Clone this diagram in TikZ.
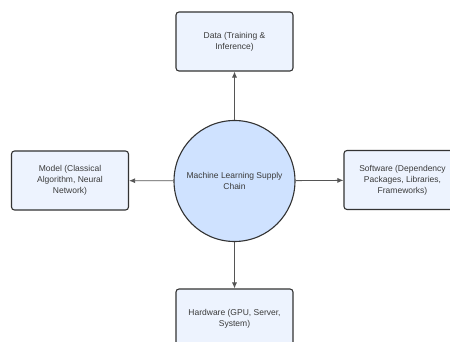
\documentclass[tikz,border=0pt]{standalone}
\usepackage{fontspec}
\setmainfont{Liberation Sans}
\usetikzlibrary{arrows.meta}

\definecolor{boxfill}{HTML}{EDF3FE}
\definecolor{hubfill}{HTML}{CFE2FF}
\definecolor{edge}{HTML}{333333}
\definecolor{wire}{HTML}{555555}
\definecolor{ink}{HTML}{3A3A3A}

\tikzset{
  part/.style={draw=edge, fill=boxfill, line width=1.1pt, rounded corners=3pt,
    minimum width=117pt, minimum height=59pt, align=center, text=ink,
    font=\fontsize{8.5}{11}\selectfont},
  hub/.style={circle, draw=edge, fill=hubfill, line width=1.1pt,
    minimum size=121pt, align=center, text=ink, font=\fontsize{8.5}{11}\selectfont},
  flow/.style={draw=wire, line width=0.8pt, -{Latex[length=6pt,width=5pt]}}
}

\begin{document}
\begin{tikzpicture}[x=1pt, y=-1pt]
    % page frame, boxes on the right and bottom run off the edge
    \useasboundingbox (0,0) rectangle (450,342);
    \clip (0,0) rectangle (450,342);

    % Central node
    \node[hub] (chain) at (234.5,181) {Machine Learning Supply\\Chain};

    % Surrounding parts
    \node[part] (data)     at (234.5,41.5)  {Data (Training \&\\Inference)};
    \node[part] (model)    at (70,180.5)    {Model (Classical\\Algorithm, Neural\\Network)};
    \node[part] (software) at (402.5,180)   {Software (Dependency\\Packages, Libraries,\\Frameworks)};
    \node[part] (hardware) at (234.5,318.5) {Hardware (GPU, Server,\\System)};

    % Arrows out of the hub
    \draw[flow] (chain) -- (data);
    \draw[flow] (chain) -- (model);
    \draw[flow] (chain) -- (software);
    \draw[flow] (chain) -- (hardware);
\end{tikzpicture}
\end{document}
